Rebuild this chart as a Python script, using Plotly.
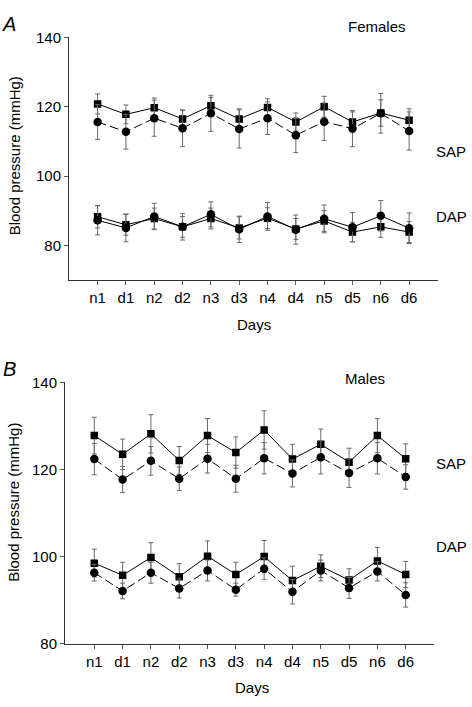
import plotly.graph_objects as go

days = ["n1", "d1", "n2", "d2", "n3", "d3", "n4", "d4", "n5", "d5", "n6", "d6"]

# Panel A: Females
fem_sap_sq = [120.8, 117.8, 119.7, 116.5, 120.3, 116.5, 119.8, 115.6, 120.0, 115.6, 118.2, 116.1]
fem_sap_sq_err = [2.9, 2.7, 2.8, 2.4, 2.4, 2.9, 2.5, 2.6, 3.0, 2.9, 3.8, 3.3]
fem_sap_ci = [115.6, 112.8, 116.7, 113.8, 118.1, 113.6, 116.7, 111.8, 115.7, 113.7, 118.1, 113.0]
fem_sap_ci_err = [5.0, 5.0, 5.2, 5.3, 5.2, 5.5, 4.7, 5.0, 5.4, 5.2, 5.7, 5.5]
fem_dap_sq = [88.3, 86.0, 87.8, 85.4, 87.8, 85.1, 87.9, 84.8, 87.1, 83.9, 85.4, 83.9]
fem_dap_sq_err = [3.2, 3.0, 3.0, 3.0, 3.0, 3.2, 3.0, 3.0, 3.0, 2.8, 3.0, 3.0]
fem_dap_ci = [87.3, 85.1, 88.4, 85.4, 89.0, 84.7, 88.4, 84.6, 87.7, 85.3, 88.6, 85.0]
fem_dap_ci_err = [4.2, 4.0, 3.8, 3.8, 3.6, 3.8, 4.0, 4.2, 4.0, 4.2, 4.4, 4.4]

# Panel B: Males
mal_sap_sq = [127.8, 123.5, 128.2, 122.1, 127.8, 123.9, 129.1, 122.4, 125.8, 121.7, 127.8, 122.5]
mal_sap_sq_err = [4.2, 3.5, 4.4, 3.2, 3.9, 3.6, 4.4, 3.4, 3.5, 3.2, 3.9, 3.4]
mal_sap_ci = [122.4, 117.7, 122.0, 117.9, 122.5, 117.9, 122.6, 119.1, 122.8, 119.2, 122.6, 118.3]
mal_sap_ci_err = [3.6, 3.0, 3.3, 2.7, 3.3, 3.1, 3.6, 3.1, 3.8, 3.3, 3.6, 2.8]
mal_dap_sq = [98.5, 95.7, 99.8, 95.4, 100.1, 95.9, 100.0, 94.5, 97.8, 94.6, 99.0, 95.9]
mal_dap_sq_err = [3.2, 3.0, 3.4, 3.0, 3.5, 2.8, 3.7, 3.3, 2.6, 2.6, 3.1, 3.0]
mal_dap_ci = [96.3, 92.1, 96.3, 92.7, 96.8, 92.4, 97.2, 91.9, 96.8, 92.8, 96.6, 91.2]
mal_dap_ci_err = [1.9, 1.8, 2.4, 2.2, 2.4, 1.5, 2.5, 2.8, 2.4, 2.4, 2.2, 2.8]

W, H = 472, 707
FONT = "Liberation Sans, Arial, Helvetica, sans-serif"
FS = 15
x_idx = list(range(len(days)))

fig = go.Figure()


def add_series(y, err, symbol, dash, xa, ya):
    fig.add_trace(go.Scatter(
        x=x_idx, y=y, xaxis=xa, yaxis=ya, mode="lines+markers",
        line=dict(color="black", width=1, dash=dash),
        marker=dict(symbol=symbol, size=7.5 if symbol == "square" else 8.5, color="black"),
        error_y=dict(type="data", array=err, visible=True, color="#6a6a6a",
                     thickness=1, width=2.5),
        showlegend=False, hoverinfo="skip",
    ))


LD = "9px,4px"
add_series(fem_sap_sq, fem_sap_sq_err, "square", "solid", "x", "y")
add_series(fem_sap_ci, fem_sap_ci_err, "circle", LD, "x", "y")
add_series(fem_dap_sq, fem_dap_sq_err, "square", "solid", "x", "y")
add_series(fem_dap_ci, fem_dap_ci_err, "circle", "solid", "x", "y")
add_series(mal_sap_sq, mal_sap_sq_err, "square", "solid", "x2", "y2")
add_series(mal_sap_ci, mal_sap_ci_err, "circle", LD, "x2", "y2")
add_series(mal_dap_sq, mal_dap_sq_err, "square", "solid", "x2", "y2")
add_series(mal_dap_ci, mal_dap_ci_err, "circle", LD, "x2", "y2")

ax_common = dict(showgrid=False, zeroline=False, showline=True, linecolor="#333",
                 linewidth=1, ticks="outside", ticklen=4, tickcolor="#555",
                 tickfont=dict(family=FONT, size=FS, color="black"))


def px_x(p):
    return p / W


def px_y(p):
    return 1 - p / H


fig.update_layout(
    width=W, height=H, margin=dict(l=0, r=0, t=0, b=0),
    paper_bgcolor="white", plot_bgcolor="white",
    xaxis=dict(domain=[px_x(69), px_x(438)], range=[-1.01, 12.02], anchor="y",
               tickvals=x_idx, ticktext=days, **ax_common),
    yaxis=dict(domain=[px_y(278), px_y(29)], range=[70, 140], anchor="x",
               tickvals=[80, 100, 120, 140], **ax_common),
    xaxis2=dict(domain=[px_x(65), px_x(434)], range=[-1.035, 12.0], anchor="y2",
                tickvals=x_idx, ticktext=days, **ax_common),
    yaxis2=dict(domain=[px_y(650.3), px_y(382.7)], range=[80, 140], anchor="x2",
                tickvals=[80, 100, 120, 140], **ax_common),
)


def note(text, x, y, size=FS, angle=0, italic=False):
    fig.add_annotation(
        text=f"<i>{text}</i>" if italic else text,
        x=px_x(x), y=px_y(y), xref="paper", yref="paper",
        showarrow=False, textangle=angle, xanchor="center", yanchor="middle",
        font=dict(family=FONT, size=size, color="black"))


note("A", 9, 15, size=20, italic=True)
note("B", 9, 369, size=20, italic=True)
note("Females", 377, 18)
note("Males", 365, 379)
note("SAP", 451, 146)
note("DAP", 451, 213)
note("SAP", 451, 466)
note("DAP", 451, 551)
note("Days", 254, 323)
note("Days", 252, 695)
note("Blood pressure (mmHg)", 14, 151, angle=-90)
note("Blood pressure (mmHg)", 14, 506, angle=-90)

fig.write_html(
    "out.html",
    config={"displayModeBar": False},
    post_script="document.body.style.margin='0';document.body.style.overflow='hidden';",
)
